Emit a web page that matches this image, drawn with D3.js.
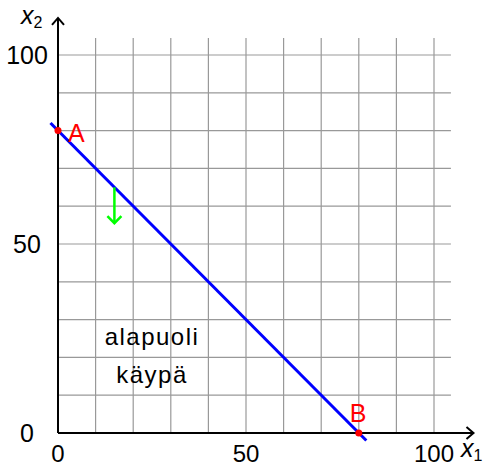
<!DOCTYPE html>
<html>
<head>
<meta charset="utf-8">
<script src="https://cdn.jsdelivr.net/npm/d3@7"></script>
<style>
  body { margin: 0; background: #fff; }
  text { font-family: "Liberation Sans", "DejaVu Sans", sans-serif; }
</style>
</head>
<body>
<div id="chart"></div>
<script>
const width = 485;
const height = 467;

// Datos
const gridTicks = [10, 20, 30, 40, 50, 60, 70, 80, 90, 100];
const tickLabels = [0, 50, 100];
const lineX = [-2, 82];          // recta x1 + x2 = 80
const lineY = lineX.map(v => 80 - v);
const points = [
  { name: 'A', x: 0, y: 80 },
  { name: 'B', x: 80, y: 0 }
];
const arrowFrom = [15, 65];
const arrowTo = [15, 55.5];
const regionLabel = ['alapuoli', 'käypä'];
const regionPos = [25, 19];

const gridMax = 104.5;
const axisMax = 110.5;

const svg = d3.select('#chart')
  .append('svg')
  .attr('width', width)
  .attr('height', height);

// Escalas
const x = d3.scaleLinear().domain([0, 100]).range([58, 434]);
const y = d3.scaleLinear().domain([0, 100]).range([433, 55]);

// Rejilla
const grid = svg.append('g').attr('stroke', '#999').attr('stroke-width', 1.2);
grid.selectAll('.vline')
  .data(gridTicks)
  .enter()
  .append('line')
  .attr('x1', d => x(d)).attr('x2', d => x(d))
  .attr('y1', y(0)).attr('y2', y(gridMax));
grid.selectAll('.hline')
  .data(gridTicks)
  .enter()
  .append('line')
  .attr('x1', x(0)).attr('x2', x(gridMax))
  .attr('y1', d => y(d)).attr('y2', d => y(d));

// Ejes con flecha
const axes = svg.append('g').attr('stroke', 'black').attr('stroke-width', 2).attr('fill', 'none');
axes.append('line').attr('x1', x(0)).attr('y1', y(0)).attr('x2', x(axisMax)).attr('y2', y(0));
axes.append('line').attr('x1', x(0)).attr('y1', y(0)).attr('x2', x(0)).attr('y2', y(109.8));
const tx = x(axisMax), ty = y(109.8);
axes.append('path').attr('d', `M${tx - 7},${y(0) - 6} L${tx},${y(0)} L${tx - 7},${y(0) + 6}`);
axes.append('path').attr('d', `M${x(0) - 6},${ty + 7} L${x(0)},${ty} L${x(0) + 6},${ty + 7}`);

// Etiquetas de los ejes
svg.selectAll('.xtick')
  .data(tickLabels)
  .enter()
  .append('text')
  .attr('x', d => x(d))
  .attr('y', 462)
  .attr('text-anchor', 'middle')
  .attr('font-size', 24)
  .text(d => d);
svg.selectAll('.ytick')
  .data(tickLabels)
  .enter()
  .append('text')
  .attr('x', 27)
  .attr('y', d => y(d) + 9)
  .attr('text-anchor', 'middle')
  .attr('font-size', 25)
  .text(d => d);

const lab1 = svg.append('text').attr('x', 461).attr('y', 457).attr('font-size', 25);
lab1.append('tspan').attr('font-style', 'italic').text('x');
lab1.append('tspan').attr('font-size', 16).attr('dy', 4).text('1');
const lab2 = svg.append('text').attr('x', 21).attr('y', 24).attr('font-size', 25);
lab2.append('tspan').attr('font-style', 'italic').text('x');
lab2.append('tspan').attr('font-size', 16).attr('dy', 4).text('2');

// Recta
svg.append('line')
  .attr('x1', x(lineX[0])).attr('y1', y(lineY[0]))
  .attr('x2', x(lineX[1])).attr('y2', y(lineY[1]))
  .attr('stroke', '#0000ff')
  .attr('stroke-width', 3);

// Puntos A y B
svg.selectAll('.pt')
  .data(points)
  .enter()
  .append('circle')
  .attr('cx', d => x(d.x))
  .attr('cy', d => y(d.y))
  .attr('r', 3.5)
  .attr('fill', 'red');
svg.selectAll('.ptlabel')
  .data(points)
  .enter()
  .append('text')
  .attr('x', d => x(d.x) + (d.name === 'A' ? 10 : -9))
  .attr('y', d => y(d.y) + (d.name === 'A' ? 11 : -11))
  .attr('font-size', 25)
  .attr('fill', 'red')
  .text(d => d.name);

// Flecha verde
const arrow = svg.append('g').attr('stroke', '#00ff00').attr('stroke-width', 2.5).attr('fill', 'none');
arrow.append('line')
  .attr('x1', x(arrowFrom[0])).attr('y1', y(arrowFrom[1]))
  .attr('x2', x(arrowTo[0])).attr('y2', y(arrowTo[1]));
arrow.append('path')
  .attr('d', `M${x(arrowTo[0]) - 7},${y(arrowTo[1]) - 7} L${x(arrowTo[0])},${y(arrowTo[1])} L${x(arrowTo[0]) + 7},${y(arrowTo[1]) - 7}`);

// Texto de la región
svg.selectAll('.region')
  .data(regionLabel)
  .enter()
  .append('text')
  .attr('x', x(regionPos[0]))
  .attr('y', (d, i) => y(regionPos[1]) - 16 + i * 38)
  .attr('text-anchor', 'middle')
  .attr('font-size', 24)
  .attr('letter-spacing', 1.5)
  .text(d => d);
</script>
</body>
</html>
